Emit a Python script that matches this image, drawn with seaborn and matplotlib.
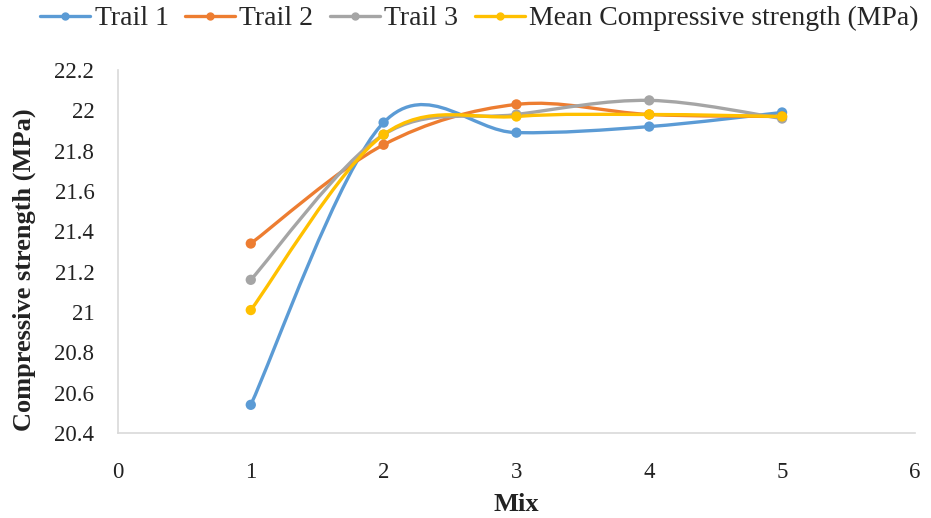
import numpy as np
import pandas as pd
import matplotlib
matplotlib.use("Agg")
import matplotlib.pyplot as plt
from matplotlib.path import Path
from matplotlib.patches import PathPatch
from matplotlib.lines import Line2D
import seaborn as sns

# Compressive strength results per mix
mix = [1, 2, 3, 4, 5]
trail_1 = [20.54, 21.94, 21.89, 21.92, 21.99]
trail_2 = [21.34, 21.83, 22.03, 21.98, 21.97]
trail_3 = [21.16, 21.88, 21.98, 22.05, 21.96]
mean_strength = [21.01, 21.88, 21.97, 21.98, 21.97]

series_names = ["Trail 1", "Trail 2", "Trail 3", "Mean Compressive strength (MPa)"]
series_values = [trail_1, trail_2, trail_3, mean_strength]
colors = ["#5B9BD5", "#ED7D31", "#A5A5A5", "#FFC000"]

x_ticks = [0, 1, 2, 3, 4, 5, 6]
y_ticks = [20.4, 20.6, 20.8, 21.0, 21.2, 21.4, 21.6, 21.8, 22.0, 22.2]
y_tick_labels = ["20.4", "20.6", "20.8", "21", "21.2", "21.4", "21.6", "21.8", "22", "22.2"]

df = pd.DataFrame({
    "Mix": np.tile(mix, len(series_names)),
    "Strength": np.concatenate(series_values),
    "Series": np.repeat(series_names, len(mix)),
})

sns.set_theme(style="white")
plt.rcParams["font.family"] = ["Liberation Serif", "DejaVu Serif"]

fig = plt.figure(figsize=(9.31, 5.18), dpi=100)
ax = fig.add_axes([0.1267, 0.164, 0.856, 0.7006])


def smooth_path(xs, ys):
    """Cubic Bezier through the points, spreadsheet-style smoothing."""
    pts = np.column_stack([xs, ys]).astype(float)
    n = len(pts)
    verts = [pts[0]]
    codes = [Path.MOVETO]
    for i in range(n - 1):
        p0 = pts[max(i - 1, 0)]
        p1 = pts[i]
        p2 = pts[i + 1]
        p3 = pts[min(i + 2, n - 1)]
        c1 = p1 + (p2 - p0) / 6.0
        c2 = p2 - (p3 - p1) / 6.0
        verts += [c1, c2, p2]
        codes += [Path.CURVE4] * 3
    return Path(verts, codes)


for name, color in zip(series_names, colors):
    sub = df[df["Series"] == name]
    patch = PathPatch(smooth_path(sub["Mix"], sub["Strength"]), facecolor="none",
                      edgecolor=color, lw=2.4, capstyle="round", joinstyle="round")
    ax.add_patch(patch)
    sns.scatterplot(data=sub, x="Mix", y="Strength", color=color, s=55,
                    edgecolor="none", ax=ax, legend=False, zorder=3)

ax.set_xlim(0, 6)
ax.set_ylim(20.4, 22.2)
ax.set_xticks(x_ticks)
ax.set_xticklabels([str(t) for t in x_ticks])
ax.set_yticks(y_ticks)
ax.set_yticklabels(y_tick_labels)
ax.tick_params(axis="both", length=0, labelsize=16.5, colors="#222222")
ax.tick_params(axis="y", pad=17)
ax.tick_params(axis="x", pad=21)

for side in ["top", "right"]:
    ax.spines[side].set_visible(False)
for side in ["left", "bottom"]:
    ax.spines[side].set_color("#D9D9D9")
    ax.spines[side].set_linewidth(1.2)

ax.set_xlabel("Mix", fontsize=19, fontweight="bold", color="#222222", labelpad=7)
ax.set_ylabel("Compressive strength (MPa)", fontsize=19, fontweight="bold",
              color="#222222")
ax.yaxis.set_label_coords(-0.103, 0.45)

handles = [Line2D([], [], color=c, lw=2.4, marker="o", markersize=5) for c in colors]
fig.legend(handles, series_names, loc="upper center", bbox_to_anchor=(0.515, 1.037),
           ncol=4, frameon=False, fontsize=20, handlelength=1.8, handletextpad=0.15,
           columnspacing=0.6)

fig.savefig("out.png", dpi=100, facecolor="white")
